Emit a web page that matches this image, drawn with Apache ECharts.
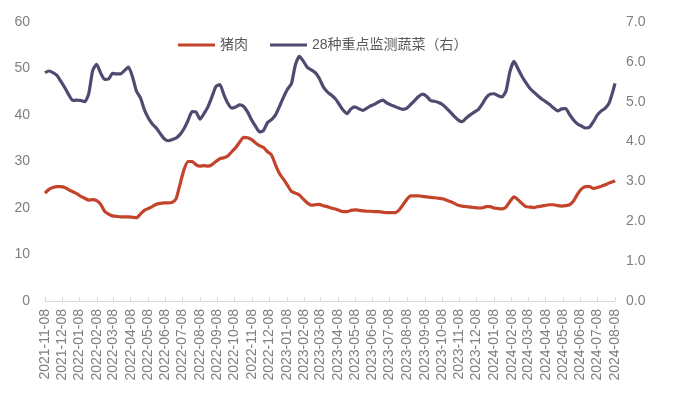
<!DOCTYPE html>
<html>
<head>
<meta charset="utf-8">
<script src="https://cdn.jsdelivr.net/npm/echarts@6/dist/echarts.min.js"></script>
<style>
html,body{margin:0;padding:0;background:#fff;}
#chart{width:679px;height:396px;}
</style>
</head>
<body>
<div id="chart"></div>
<script>
// Weekly observation dates start 2021-11-08, final reading 2024-08-08
const startDate = '2021-11-08';
const endDate = '2024-08-08';
const weekCount = 144;

// Tick labels on the x axis (monthly)
const tickLabels = [
 '2021-11-08','2021-12-08','2022-01-08','2022-02-08','2022-03-08','2022-04-08','2022-05-08','2022-06-08',
 '2022-07-08','2022-08-08','2022-09-08','2022-10-08','2022-11-08','2022-12-08','2023-01-08','2023-02-08',
 '2023-03-08','2023-04-08','2023-05-08','2023-06-08','2023-07-08','2023-08-08','2023-09-08','2023-10-08',
 '2023-11-08','2023-12-08','2024-01-08','2024-02-08','2024-03-08','2024-04-08','2024-05-08','2024-06-08',
 '2024-07-08','2024-08-08'
];

// 猪肉 (left axis)
const pork = [
 23.2,24.0,24.4,24.6,24.6,24.4,23.9,23.5,23.1,22.5,22.1,21.7,21.8,21.6,20.8,19.3,18.7,18.3,18.2,18.1,
 18.1,18.1,18.0,17.9,18.7,19.5,19.9,20.3,20.8,21.0,21.1,21.1,21.2,22.0,25.2,28.3,30.0,30.0,29.3,29.0,
 29.1,29.0,29.3,30.0,30.6,30.8,31.2,32.1,33.0,34.2,35.2,35.1,34.7,34.0,33.4,33.0,32.1,31.4,29.3,27.4,
 26.2,24.9,23.6,23.2,22.8,21.9,21.1,20.6,20.7,20.8,20.5,20.3,20.0,19.8,19.5,19.2,19.2,19.5,19.6,19.5,
 19.4,19.3,19.3,19.2,19.2,19.1,19.0,19.0,19.0,19.5,20.6,21.8,22.6,22.6,22.6,22.5,22.4,22.3,22.2,22.1,
 22.0,21.7,21.4,21.0,20.6,20.4,20.3,20.2,20.1,20.0,20.0,20.3,20.3,20.0,19.9,19.8,20.2,21.4,22.4,21.8,
 21.0,20.3,20.2,20.1,20.3,20.4,20.6,20.7,20.7,20.5,20.4,20.5,20.7,21.5,23.0,24.1,24.6,24.6,24.2,24.4,
 24.7,25.0,25.4,25.7,25.9
];

// 28种重点监测蔬菜 (right axis)
const veg = [
 5.73,5.77,5.73,5.66,5.51,5.35,5.17,5.03,5.04,5.03,5.00,5.20,5.78,5.94,5.72,5.56,5.57,5.71,5.70,5.70,
 5.78,5.87,5.63,5.27,5.10,4.80,4.59,4.44,4.34,4.20,4.07,4.02,4.05,4.09,4.18,4.33,4.53,4.75,4.74,4.56,
 4.70,4.87,5.12,5.38,5.43,5.18,4.96,4.84,4.87,4.92,4.88,4.74,4.54,4.38,4.24,4.28,4.48,4.55,4.67,4.88,
 5.11,5.31,5.45,5.92,6.14,6.02,5.86,5.80,5.73,5.59,5.38,5.25,5.17,5.08,4.94,4.79,4.70,4.82,4.87,4.82,
 4.78,4.84,4.90,4.94,5.00,5.04,4.97,4.92,4.88,4.84,4.81,4.83,4.93,5.03,5.13,5.19,5.14,5.03,5.01,4.98,
 4.93,4.84,4.74,4.63,4.54,4.50,4.59,4.67,4.74,4.80,4.94,5.10,5.19,5.20,5.15,5.12,5.27,5.76,6.01,5.83,
 5.64,5.48,5.34,5.24,5.15,5.07,5.00,4.93,4.84,4.77,4.82,4.83,4.68,4.54,4.44,4.39,4.34,4.36,4.50,4.67,
 4.77,4.84,4.98,5.30,5.46
];

const leftTicks = {min: 0, max: 60, interval: 10};
const rightTicks = {min: 0, max: 7, interval: 1};

// Build date list: weekly from start, then the final date
const dayMs = 86400000;
const toTs = s => Date.UTC(+s.slice(0, 4), +s.slice(5, 7) - 1, +s.slice(8, 10));
const t0 = toTs(startDate);
const dates = [];
for (let i = 0; i < weekCount; i++) dates.push(t0 + i * 7 * dayMs);
dates.push(toTs(endDate));

const tickValues = tickLabels.map(toTs);
const labelMap = {};
tickValues.forEach((v, i) => { labelMap[v] = tickLabels[i]; });

const porkData = pork.map((v, i) => [dates[i], v]);
const vegData = veg.map((v, i) => [dates[i], v]);

const chart = echarts.init(document.getElementById('chart'), null, {renderer: 'canvas'});
const fontFamily = '"Liberation Sans", Arial, "Noto Sans CJK SC", sans-serif';

chart.setOption({
  animation: false,
  backgroundColor: '#ffffff',
  textStyle: {fontFamily: fontFamily},
  legend: {
    left: 173,
    top: 33,
    icon: 'rect',
    itemWidth: 37,
    itemHeight: 3,
    itemGap: 22,
    textStyle: {fontSize: 14, color: '#595959', fontFamily: fontFamily},
    data: ['猪肉', '28种重点监测蔬菜（右）']
  },
  grid: {left: 45, right: 64, top: 22, bottom: 95, containLabel: false},
  xAxis: {
    type: 'value',
    min: tickValues[0],
    max: tickValues[tickValues.length - 1],
    splitLine: {show: false},
    axisLine: {show: true, lineStyle: {color: '#d9d9d9', width: 1}},
    axisTick: {show: true, customValues: tickValues, length: 4, inside: true, lineStyle: {color: '#d9d9d9'}},
    axisLabel: {
      customValues: tickValues,
      rotate: 90,
      margin: 8,
      fontSize: 14,
      color: '#7f7f7f',
      fontFamily: fontFamily,
      showMinLabel: true,
      showMaxLabel: true,
      hideOverlap: false,
      formatter: function (v) { return labelMap[v] || ''; }
    }
  },
  yAxis: [
    {
      type: 'value',
      min: leftTicks.min, max: leftTicks.max, interval: leftTicks.interval,
      splitLine: {show: false},
      axisLine: {show: false},
      axisTick: {show: false},
      axisLabel: {fontSize: 14, color: '#7f7f7f', margin: 15, fontFamily: fontFamily}
    },
    {
      type: 'value',
      position: 'right',
      min: rightTicks.min, max: rightTicks.max, interval: rightTicks.interval,
      splitLine: {show: false},
      axisLine: {show: false},
      axisTick: {show: false},
      axisLabel: {fontSize: 14, color: '#7f7f7f', margin: 11, fontFamily: fontFamily,
        formatter: function (v) { return v.toFixed(1); }}
    }
  ],
  series: [
    {
      name: '猪肉',
      type: 'line',
      yAxisIndex: 0,
      symbol: 'none',
      smooth: 0.2,
      data: porkData,
      lineStyle: {color: '#C4432B', width: 3.2},
      itemStyle: {color: '#C4432B'}
    },
    {
      name: '28种重点监测蔬菜（右）',
      type: 'line',
      yAxisIndex: 1,
      symbol: 'none',
      smooth: 0.2,
      data: vegData,
      lineStyle: {color: '#4D4C70', width: 3.2},
      itemStyle: {color: '#4D4C70'}
    }
  ]
});
</script>
</body>
</html>
